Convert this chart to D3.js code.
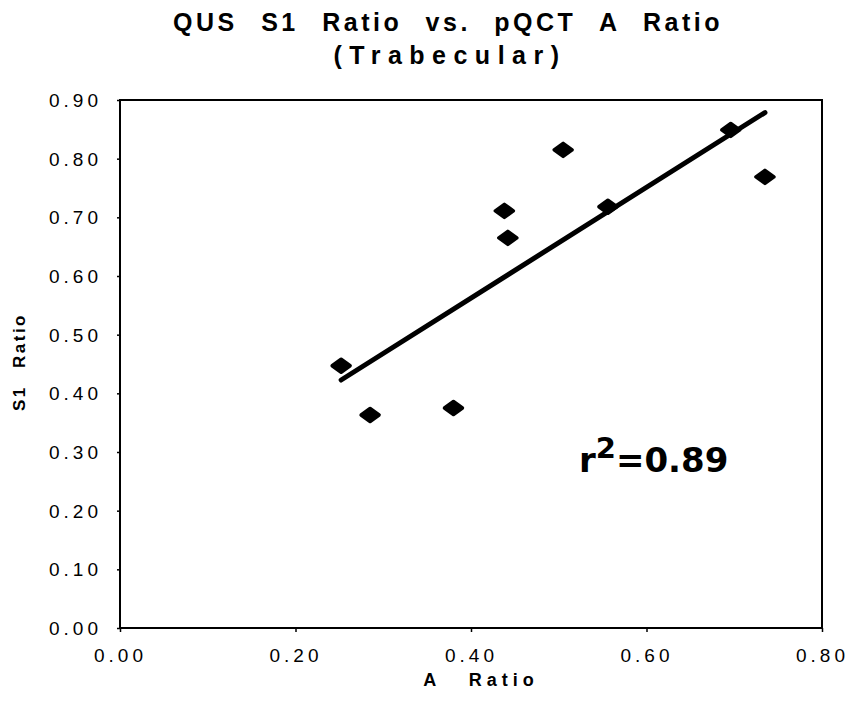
<!DOCTYPE html>
<html><head><meta charset="utf-8">
<script src="https://cdn.jsdelivr.net/npm/d3@7"></script>
<style>body{margin:0;background:#fff}svg{display:block}</style>
</head><body>
<script>
const aRatio  = [0.252, 0.285, 0.380, 0.438, 0.442, 0.505, 0.556, 0.696, 0.735];
const s1Ratio = [0.447, 0.363, 0.375, 0.711, 0.665, 0.815, 0.718, 0.849, 0.769];
const xTicks = [0, 0.2, 0.4, 0.6, 0.8];
const yTicks = [0, 0.1, 0.2, 0.3, 0.4, 0.5, 0.6, 0.7, 0.8, 0.9];
const titleLines = ["QUS S1 Ratio vs. pQCT A Ratio", "(Trabecular)"];
const xTitle = "A Ratio", yTitle = "S1 Ratio";
const r2Text = "0.89";

const W = 851, H = 703;
const m = {left:120, right:29, top:100, bottom:75};
const FONT = "Liberation Sans, Arial, Helvetica, sans-serif";
const svg = d3.select("body").append("svg").attr("width", W).attr("height", H);
const x = d3.scaleLinear().domain([0, 0.8]).range([m.left, W - m.right]);
const y = d3.scaleLinear().domain([0, 0.9]).range([H - m.bottom, m.top]);

// frame
svg.append("rect").attr("x", x(0)).attr("y", y(0.9)).attr("width", x(0.8)-x(0)).attr("height", y(0)-y(0.9))
  .attr("fill","none").attr("stroke","#000").attr("stroke-width",2);

const fmt = d3.format(".2f");
const ls = 4;
const xa = svg.append("g").attr("transform",`translate(0,${y(0)})`)
  .call(d3.axisBottom(x).tickValues(xTicks).tickFormat(fmt).tickSize(4).tickPadding(17));
const ya = svg.append("g").attr("transform",`translate(${x(0)},0)`)
  .call(d3.axisLeft(y).tickValues(yTicks).tickFormat(fmt).tickSize(3).tickPadding(15));
[xa, ya].forEach(g => {
  g.select(".domain").remove();
  g.selectAll(".tick line").attr("stroke","#000").attr("stroke-width",1.5);
  g.selectAll("text").attr("font-family",FONT).attr("font-size",19)
    .attr("letter-spacing",ls+"px").attr("fill","#000");
});
ya.selectAll("text").attr("dy","0.35em");

// regression line (least squares from data)
const mx = d3.mean(aRatio), my = d3.mean(s1Ratio);
const slope = d3.sum(aRatio, (v,i) => (v-mx)*(s1Ratio[i]-my)) / d3.sum(aRatio, v => (v-mx)**2);
const icpt = my - slope*mx;
const x0 = d3.min(aRatio), x1 = d3.max(aRatio);
svg.append("line").attr("x1", x(x0)).attr("y1", y(icpt+slope*x0)).attr("x2", x(x1)).attr("y2", y(icpt+slope*x1))
  .attr("stroke","#000").attr("stroke-width",5).attr("stroke-linecap","round");

// points
const dw = 9, dh = 6.5;
svg.append("g").selectAll("path").data(aRatio).join("path")
  .attr("d", (v,i) => { const cx=x(v), cy=y(s1Ratio[i]); return `M${cx-dw},${cy}L${cx},${cy-dh}L${cx+dw},${cy}L${cx},${cy+dh}Z`; })
  .attr("fill","#000").attr("stroke","#000").attr("stroke-width",3.5).attr("stroke-linejoin","round");

// titles
const tt = svg.append("text").attr("text-anchor","middle").attr("font-family",FONT)
  .attr("font-weight","bold").attr("font-size",25).attr("fill","#000");
tt.append("tspan").attr("x",448).attr("y",31).attr("word-spacing","13px").attr("letter-spacing","3.5px").text(titleLines[0]);
tt.append("tspan").attr("x",450).attr("y",64).attr("letter-spacing","7.5px").text(titleLines[1]);

svg.append("text").attr("x",481).attr("y",686).attr("text-anchor","middle")
  .attr("font-family",FONT).attr("font-weight","bold").attr("font-size",18)
  .attr("letter-spacing","5px").attr("word-spacing","18px").text(xTitle);
svg.append("text").attr("transform","translate(25,362) rotate(-90)").attr("text-anchor","middle")
  .attr("font-family",FONT).attr("font-weight","bold").attr("font-size",17)
  .attr("letter-spacing","2.5px").attr("word-spacing","10px").text(yTitle);

// r^2 annotation
const r2 = svg.append("text").attr("x",579).attr("y",472).attr("font-family","DejaVu Sans, sans-serif")
  .attr("font-weight","bold").attr("font-size",34).attr("fill","#000");
r2.append("tspan").text("r");
r2.append("tspan").attr("dy",-14).attr("font-size",29).text("2");
r2.append("tspan").attr("dy",14).text("=" + r2Text);
</script>
</body></html>
